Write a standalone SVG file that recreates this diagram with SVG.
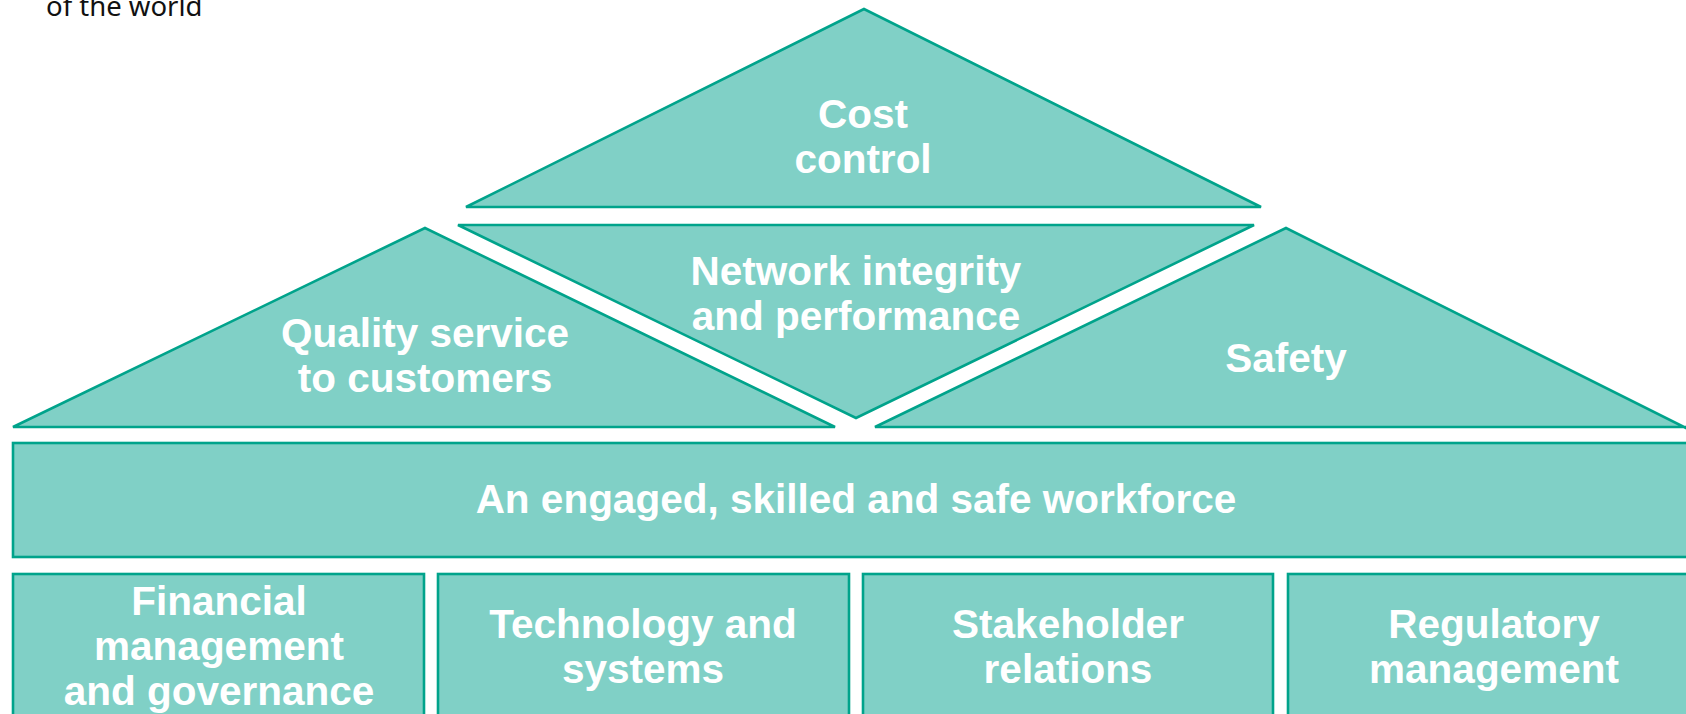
<svg xmlns="http://www.w3.org/2000/svg" width="1686" height="714" viewBox="0 0 1686 714">
  <style>
    .shape { fill: #80D0C6; stroke: #00A38B; stroke-width: 2.6; stroke-linejoin: miter; }
    .label { fill: #FFFFFF; font-family: "Liberation Sans", Arial, sans-serif; font-weight: bold; font-size: 40.5px; text-anchor: middle; }
    .caption { fill: #111111; font-family: "Noto Sans", "Open Sans", sans-serif; font-size: 27.5px; }
  </style>
  <rect width="1686" height="714" fill="#FFFFFF"/>

  <!-- fragment of a heading running off the top edge -->
  <text class="caption" x="46" y="16">of the world</text>

  <!-- roof: upper triangle -->
  <g id="cost-control">
    <polygon class="shape" points="864,9 466,207 1261,207"/>
    <text class="label" x="863" y="128">Cost</text>
    <text class="label" x="863" y="173">control</text>
  </g>

  <!-- roof: inverted middle triangle -->
  <g id="network-integrity">
    <polygon class="shape" points="458,225 1254,225 856,418"/>
    <text class="label" x="856" y="285">Network integrity</text>
    <text class="label" x="856" y="330">and performance</text>
  </g>

  <!-- roof: left triangle -->
  <g id="quality-service">
    <polygon class="shape" points="425,228 13,427 835,427"/>
    <text class="label" x="425" y="347">Quality service</text>
    <text class="label" x="425" y="392">to customers</text>
  </g>

  <!-- roof: right triangle -->
  <g id="safety">
    <polygon class="shape" points="1286,228 875,427 1686,427 1690,430"/>
    <text class="label" x="1286" y="372">Safety</text>
  </g>

  <!-- floor band -->
  <g id="workforce">
    <rect class="shape" x="13" y="443" width="1690" height="114"/>
    <text class="label" x="856" y="513">An engaged, skilled and safe workforce</text>
  </g>

  <!-- pillars -->
  <g id="financial-management">
    <rect class="shape" x="13" y="574" width="411" height="160"/>
    <text class="label" x="219" y="615">Financial</text>
    <text class="label" x="219" y="660">management</text>
    <text class="label" x="219" y="705">and governance</text>
  </g>
  <g id="technology-systems">
    <rect class="shape" x="438" y="574" width="411" height="160"/>
    <text class="label" x="643" y="638">Technology and</text>
    <text class="label" x="643" y="683">systems</text>
  </g>
  <g id="stakeholder-relations">
    <rect class="shape" x="863" y="574" width="410" height="160"/>
    <text class="label" x="1068" y="638">Stakeholder</text>
    <text class="label" x="1068" y="683">relations</text>
  </g>
  <g id="regulatory-management">
    <rect class="shape" x="1288" y="574" width="420" height="160"/>
    <text class="label" x="1494" y="638">Regulatory</text>
    <text class="label" x="1494" y="683">management</text>
  </g>

  <!-- no connectors in this diagram -->
  <g id="connectors"/>
</svg>
